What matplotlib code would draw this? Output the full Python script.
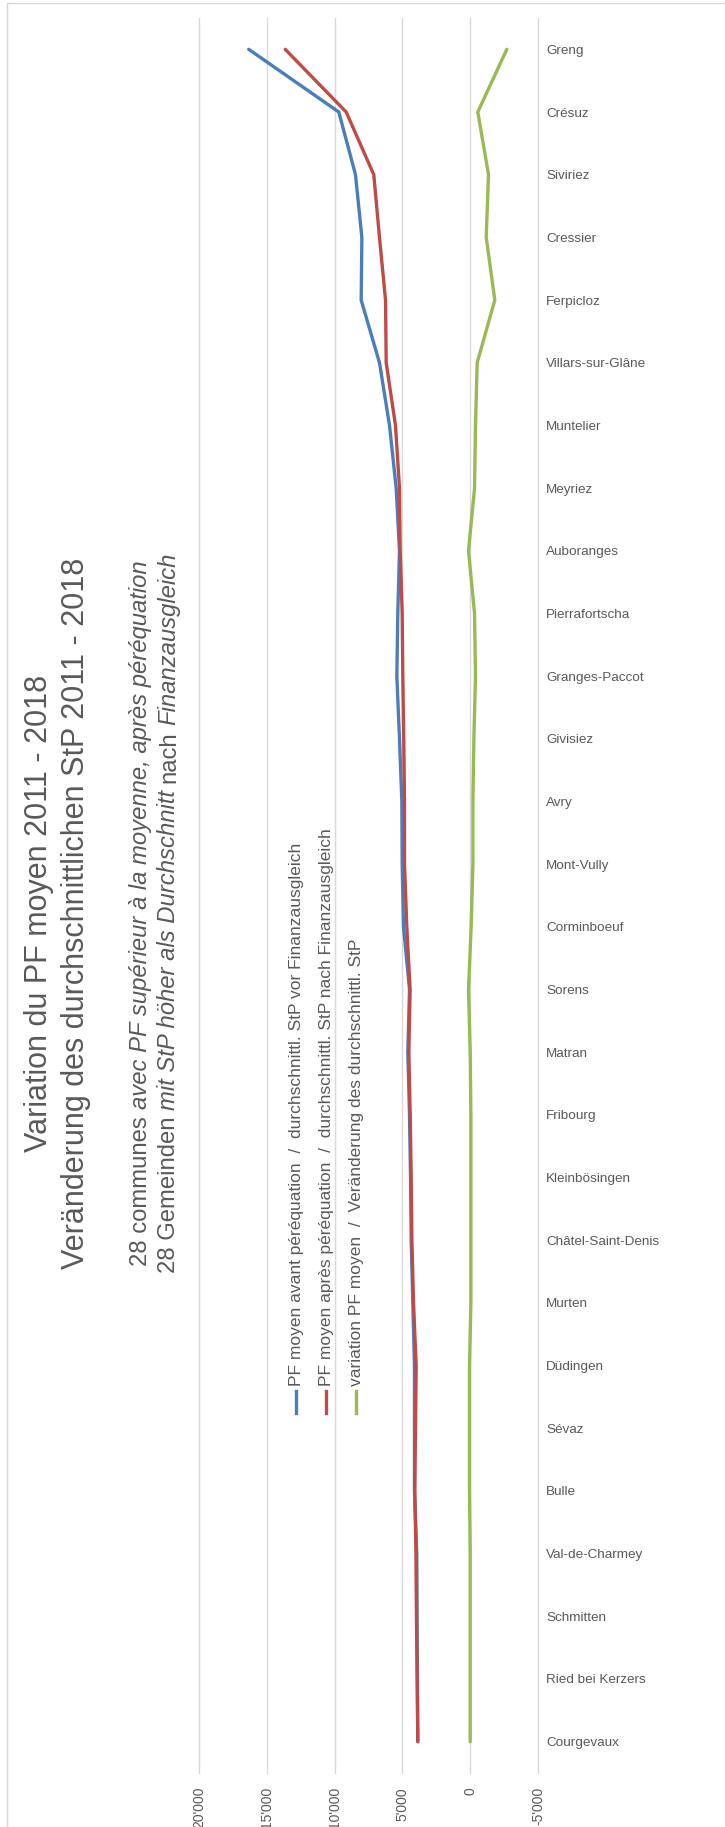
import matplotlib
matplotlib.use("Agg")
import matplotlib.pyplot as plt
from matplotlib.lines import Line2D
from matplotlib.patches import Rectangle

plt.rcParams['font.family'] = ['Liberation Sans', 'DejaVu Sans']

communes = ["Greng", "Crésuz", "Siviriez", "Cressier", "Ferpicloz", "Villars-sur-Glâne",
            "Muntelier", "Meyriez", "Auboranges", "Pierrafortscha", "Granges-Paccot",
            "Givisiez", "Avry", "Mont-Vully", "Corminboeuf", "Sorens", "Matran", "Fribourg",
            "Kleinbösingen", "Châtel-Saint-Denis", "Murten", "Düdingen", "Sévaz", "Bulle",
            "Val-de-Charmey", "Schmitten", "Ried bei Kerzers", "Courgevaux"]
pf_avant = [16330, 9690, 8460, 7990, 8040, 6690, 5950, 5460, 5215, 5340, 5410, 5215, 5040, 5015,
            4920, 4475, 4600, 4475, 4400, 4350, 4230, 4110, 4110, 4110, 3940, 3915, 3890, 3865]
pf_apres = [13640, 9145, 7110, 6690, 6245, 6195, 5510, 5215, 5165, 5015, 4970, 4900, 4845, 4845,
            4675, 4430, 4525, 4425, 4350, 4300, 4180, 3985, 4035, 4085, 4000, 3965, 3915, 3865]
variation = [-2700, -560, -1350, -1180, -1815, -515, -390, -320, 125, -320, -390, -270, -200, -200,
             -70, 125, 0, -50, -50, -50, -50, 50, 50, 50, 0, 0, 0, 0]
xticks = [-5000, 0, 5000, 10000, 15000, 20000]

legend_labels = ["PF moyen avant péréquation  /  durchschnittl. StP vor Finanzausgleich",
                 "PF moyen après péréquation  /  durchschnittl. StP nach Finanzausgleich",
                 "variation PF moyen  /  Veränderung des durchschnittl. StP"]
colors = ["#4A7EBB", "#BE4B48", "#98B954"]
grey = "#595959"

W, H = 725, 1827
fig = plt.figure(figsize=(W / 100, H / 100), dpi=100)

def fx(px):
    return px / W

def fy(py):
    return 1 - py / H

# outer chart frame
fig.patches.append(Rectangle((fx(7), -0.01), 1, fy(3) + 0.01, transform=fig.transFigure,
                             fill=False, ec="#D9D9D9", lw=1))

ax = fig.add_axes([fx(199), fy(1773), fx(538 - 199), (1773 - 18) / H])
idx = list(range(len(communes)))
for vals, c in zip([pf_avant, pf_apres, variation], colors):
    ax.plot(vals, idx, color=c, lw=2.4, solid_capstyle="round", solid_joinstyle="round")

ax.set_xlim(20000, -5000)
ax.set_ylim(len(communes) - 0.5, -0.5)
ax.set_xticks(xticks, [f"{v:,}".replace(",", "'") for v in xticks], rotation=90)
ax.set_yticks(idx, communes)
ax.yaxis.tick_right()
ax.grid(axis="x", color="#D9D9D9", lw=1)
for g in ax.get_xgridlines():
    g.set_clip_on(False)
for s in ax.spines.values():
    s.set_visible(False)
ax.tick_params(axis="x", length=0, pad=10, labelsize=10, labelcolor=grey)
ax.tick_params(axis="y", length=0, pad=6, labelsize=9.7, labelcolor=grey)

# title, rotated
yc = fy(913)
fig.text(fx(47), yc, "Variation du PF moyen 2011 - 2018", rotation=90, rotation_mode="anchor",
         ha="center", va="baseline", fontsize=22, color=grey)
fig.text(fx(84), yc, "Veränderung des durchschnittlichen StP 2011 - 2018", rotation=90,
         rotation_mode="anchor", ha="center", va="baseline", fontsize=22, color=grey)

# subtitle with mixed upright / italic pieces
renderer = fig.canvas.get_renderer()

def text_len(s, style, size):
    t = fig.text(0, 0, s, fontsize=size, style=style)
    w = t.get_window_extent(renderer).width
    t.remove()
    return w

def mixed_line(xb, pieces, size):
    gap = text_len("a a", "normal", size) - text_len("aa", "normal", size)
    lens = [text_len(s, st, size) for s, st in pieces]
    total = sum(lens) + gap * (len(pieces) - 1)
    y = yc * H - total / 2
    for (s, st), l in zip(pieces, lens):
        fig.text(fx(xb), y / H, s, rotation=90, rotation_mode="anchor", ha="left",
                 va="baseline", fontsize=size, style=st, color=grey)
        y += l + gap

mixed_line(147, [("28 communes", "normal"),
                 ("avec PF supérieur à la moyenne, après péréquation", "italic")], 17.2)
mixed_line(175, [("28 Gemeinden", "normal"),
                 ("mit StP höher als Durchschnitt", "italic"),
                 ("nach", "normal"), ("Finanzausgleich", "italic")], 17.2)

# legend, rotated
for xl, c, lab in zip([296, 326, 356], colors, legend_labels):
    fig.add_artist(Line2D([fx(xl), fx(xl)], [fy(1391), fy(1413)], color=c, lw=2.4,
                          transform=fig.transFigure))
    fig.text(fx(xl), fy(1386), lab, rotation=90, rotation_mode="anchor", ha="left",
             va="center", fontsize=12.5, color=grey)

fig.savefig("out.png", dpi=100, facecolor="white")
